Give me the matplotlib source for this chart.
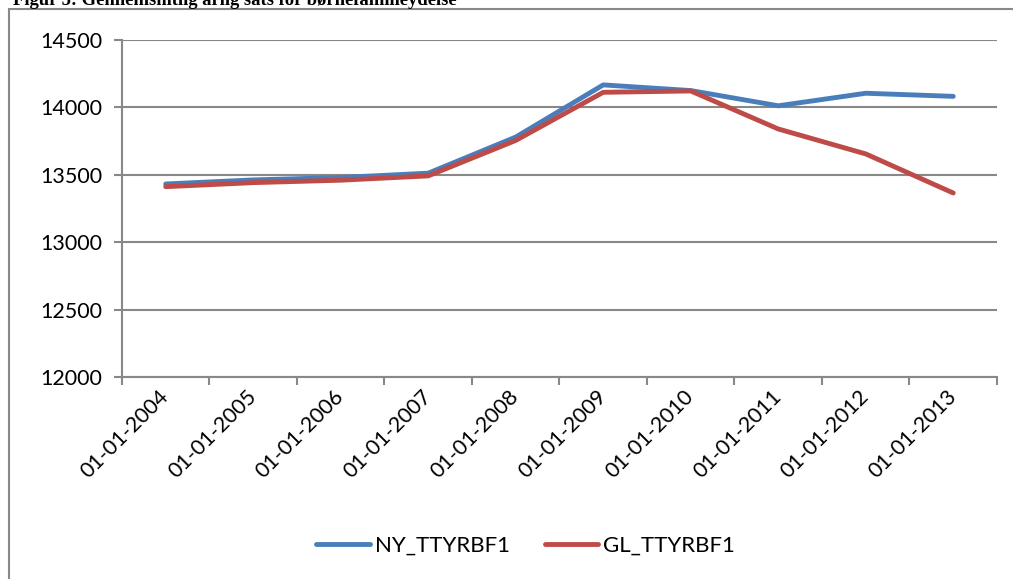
import numpy as np
import matplotlib
matplotlib.use("Agg")
import matplotlib.pyplot as plt
from matplotlib.patches import Rectangle

dates = ["01-01-2004", "01-01-2005", "01-01-2006", "01-01-2007", "01-01-2008",
         "01-01-2009", "01-01-2010", "01-01-2011", "01-01-2012", "01-01-2013"]
ny_ttyrbf1 = [13432, 13462, 13480, 13512, 13780, 14167, 14125, 14012, 14105, 14082]
gl_ttyrbf1 = [13412, 13442, 13460, 13492, 13755, 14112, 14122, 13840, 13655, 13365]
yticks = [12000, 12500, 13000, 13500, 14000, 14500]
title = "Figur 5: Gennemsnitlig årlig sats for børnefamilieydelse"

grey = "#888888"
plt.rcParams['font.family'] = ['Lato', 'DejaVu Sans']

fig = plt.figure(figsize=(10.13, 5.79), dpi=100)
ax = fig.add_axes([0.1204, 0.3489, 0.8638, 0.5820])

x = np.arange(len(dates))
ax.plot(x, ny_ttyrbf1, color="#4A7EBB", lw=3.5, solid_capstyle="round",
        solid_joinstyle="round", label="NY_TTYRBF1", zorder=3)
ax.plot(x, gl_ttyrbf1, color="#BE4B48", lw=3.5, solid_capstyle="round",
        solid_joinstyle="round", label="GL_TTYRBF1", zorder=3)

ax.set_xlim(-0.5, len(dates) - 0.5)
ax.set_ylim(yticks[0], yticks[-1])
ax.set_yticks(yticks)
ax.set_yticklabels([str(v) for v in yticks], fontsize=15.5)
ax.set_xticks(x)
ax.set_xticklabels(dates, fontsize=15.5, rotation=45, ha="right", va="center",
                   rotation_mode="anchor")
ax.set_xticks(np.arange(len(dates) + 1) - 0.5, minor=True)
ax.tick_params(axis="x", which="major", length=0, pad=12)
ax.tick_params(axis="x", which="minor", length=6, width=1.5, color=grey, direction="out")
ax.tick_params(axis="y", length=6, width=1.5, color=grey, pad=8)

ax.grid(axis="y", color=grey, lw=1.5)
ax.set_axisbelow(True)
for s in ["top", "right"]:
    ax.spines[s].set_visible(False)
for s in ["left", "bottom"]:
    ax.spines[s].set_color(grey)
    ax.spines[s].set_linewidth(1.5)

ax.legend(loc="center", bbox_to_anchor=(0.5190, 0.0570), bbox_transform=fig.transFigure,
          ncol=2, frameon=False, fontsize=16, handlelength=2.4, handletextpad=0.25,
          columnspacing=1.55)

# outer chart frame, partly cut off by the crop
fig.patches.append(Rectangle((9 / 1013, -0.1), 1.2, 1.1 - 9 / 579, transform=fig.transFigure,
                             fill=False, edgecolor=grey, lw=1.5))
fig.text(13 / 1013, 1 - 5 / 579, title, family="Liberation Serif", weight="bold",
         fontsize=13.4, ha="left", va="baseline")

fig.savefig("out.png", dpi=100)
